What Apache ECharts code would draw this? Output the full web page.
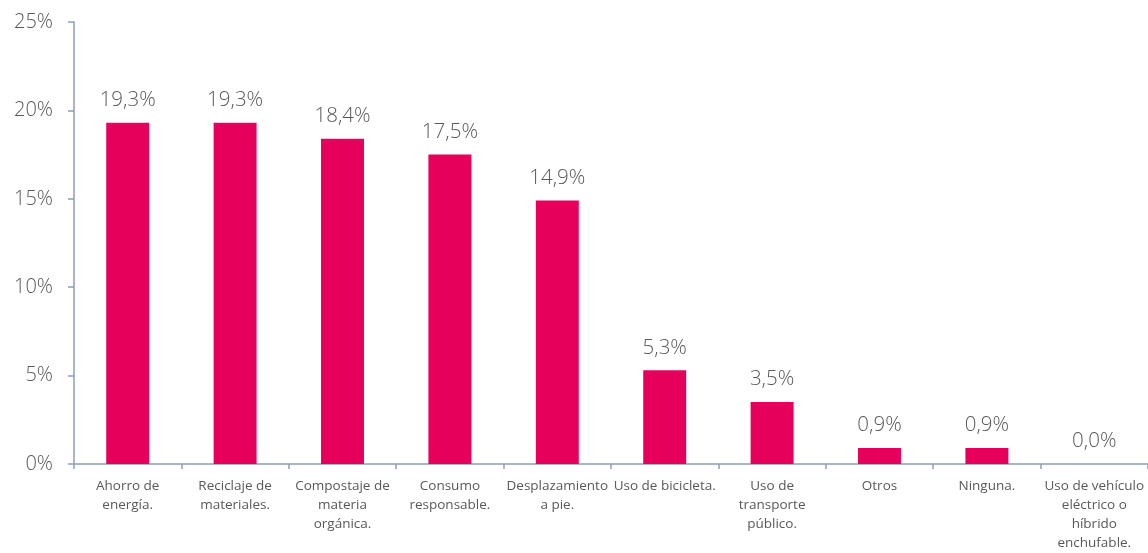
<!DOCTYPE html>
<html>
<head>
<meta charset="utf-8">
<script src="https://cdn.jsdelivr.net/npm/echarts@6/dist/echarts.min.js"></script>
<style>html,body{margin:0;padding:0;background:#fff}#c{width:1148px;height:553px}</style>
</head>
<body>
<div id="c"></div>
<script>
const categories = [
  "Ahorro de\nenergía.",
  "Reciclaje de\nmateriales.",
  "Compostaje de\nmateria\norgánica.",
  "Consumo\nresponsable.",
  "Desplazamiento\na pie.",
  "Uso de bicicleta.",
  "Uso de\ntransporte\npúblico.",
  "Otros",
  "Ninguna.",
  "Uso de vehículo\neléctrico o\nhíbrido\nenchufable."
];
const values = [19.3, 19.3, 18.4, 17.5, 14.9, 5.3, 3.5, 0.9, 0.9, 0.0];
const yTicks = [0, 5, 10, 15, 20, 25];

const font = '"Open Sans", "Noto Sans", sans-serif';
const chart = echarts.init(document.getElementById('c'));
chart.setOption({
  animation: false,
  grid: { left: 74, right: 0, top: 22, bottom: 82, containLabel: false },
  xAxis: {
    type: 'category',
    data: categories,
    axisLine: { lineStyle: { color: '#8E9DBA', width: 1.5 } },
    axisTick: { show: true, length: 5, lineStyle: { color: '#8E9DBA', width: 1.5 } },
    axisLabel: { color: '#595959', fontSize: 13.5, fontWeight: 400, fontFamily: font, lineHeight: 19, margin: 13, interval: 0 }
  },
  yAxis: {
    type: 'value',
    min: yTicks[0],
    max: yTicks[yTicks.length - 1],
    interval: 5,
    splitLine: { show: false },
    axisLine: { show: true, lineStyle: { color: '#8E9DBA', width: 1.5 } },
    axisTick: { show: true, length: 6, lineStyle: { color: '#8E9DBA', width: 1.5 } },
    axisLabel: { color: '#595959', fontSize: 20, fontWeight: 300, fontFamily: font, margin: 21, formatter: v => v + '%' }
  },
  series: [{
    type: 'bar',
    data: values,
    barWidth: '40%',
    itemStyle: { color: '#E6005C' },
    label: {
      show: true, position: 'top', distance: 12,
      color: '#595959', fontSize: 20.5, fontWeight: 300, fontFamily: font,
      formatter: p => p.value.toFixed(1).replace('.', ',') + '%'
    }
  }]
});
</script>
</body>
</html>
